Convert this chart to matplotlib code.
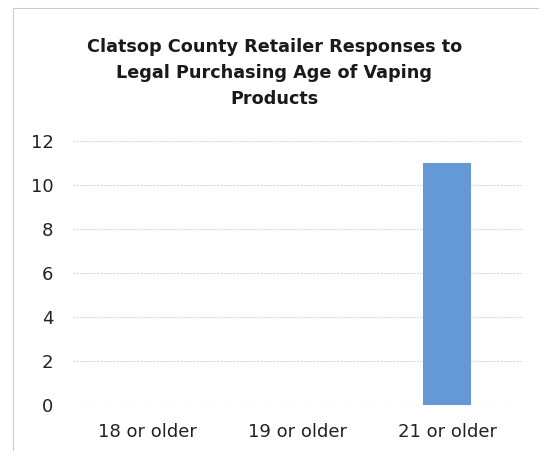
import matplotlib.pyplot as plt
from matplotlib.patches import Rectangle

# Survey results: retailer answers on legal purchasing age
categories = ['18 or older', '19 or older', '21 or older']
responses = [0, 0, 11]
y_ticks = [0, 2, 4, 6, 8, 10, 12]

plt.rcParams['font.family'] = ['DejaVu Sans']

fig = plt.figure(figsize=(5.39, 4.51), dpi=100)
ax = fig.add_axes([0.1354, 0.102, 0.8331, 0.585])

# Thin grey frame around the chart area
fig.patches.append(Rectangle((13 / 539, -0.05), 1.2, 1 - 8 / 451 + 0.05,
                             transform=fig.transFigure, fill=False,
                             edgecolor='#cccccc', linewidth=0.8))

x = range(len(categories))
ax.bar(x, responses, width=0.32, color='#6599d6', zorder=3)

ax.set_xlim(-0.5, 2.5)
ax.set_ylim(0, 12)
ax.set_yticks(y_ticks)
ax.set_xticks(list(x))
ax.set_xticklabels(categories)
ax.tick_params(axis='both', length=0, labelsize=13, colors='#222222')
ax.tick_params(axis='y', pad=14)
ax.tick_params(axis='x', pad=13)
ax.grid(axis='y', color='#dadada', linewidth=0.8, linestyle=(0, (2, 1)), zorder=0)
for s in ax.spines.values():
    s.set_visible(False)

fig.text(0.509, 0.838, 'Clatsop County Retailer Responses to\nLegal Purchasing Age of Vaping\nProducts',
         ha='center', va='center', fontsize=12.7, fontweight='bold',
         color='#1a1a1a', linespacing=1.55)

fig.savefig('out.png', dpi=100)
